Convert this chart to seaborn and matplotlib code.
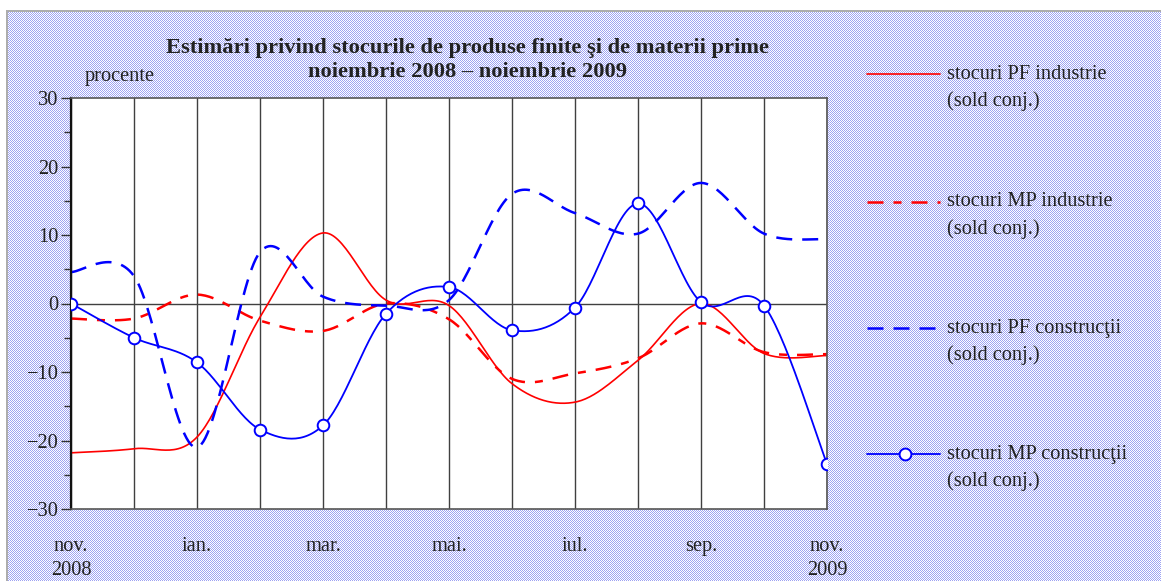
import numpy as np
import matplotlib
matplotlib.use("Agg")
import matplotlib.pyplot as plt
from matplotlib.lines import Line2D
import seaborn as sns

# monthly values, nov. 2008 - nov. 2009 (procente, sold conjunctural)
luni = ["nov.", "dec.", "ian.", "feb.", "mar.", "apr.", "mai.",
        "iun.", "iul.", "aug.", "sep.", "oct.", "nov."]
etichete_x = ["nov.\n2008", "", "ian.", "", "mar.", "", "mai.",
              "", "iul.", "", "sep.", "", "nov.\n2009"]

pf_industrie = [-21.8, -21.2, -19.5, -2.0, 10.3, 0.5, -0.3,
                -11.7, -14.4, -8.3, 0.0, -7.3, -7.6]
mp_industrie = [-2.2, -2.2, 1.3, -2.5, -4.0, 0.0, -2.3,
                -11.0, -10.2, -8.0, -2.9, -7.1, -7.4]
pf_constructii = [4.6, 4.0, -21.0, 7.5, 1.0, -0.3, 0.5,
                  16.0, 13.2, 10.2, 17.6, 10.2, 9.4]
mp_constructii = [0.0, -5.0, -8.6, -18.4, -17.8, -1.5, 2.4,
                  -3.9, -0.6, 14.6, 0.2, -0.3, -23.4]

W, H = 1161, 581


def fx(px):
    return px / W


def fy(py):
    return 1 - py / H


def smooth(vals, n=30):
    # Excel-style smoothed line (Catmull-Rom / Bezier) through the monthly points
    y = np.asarray(vals, float)
    x = np.arange(len(y), dtype=float)
    py = np.concatenate([[y[0]], y, [y[-1]]])
    px = np.concatenate([[x[0]], x, [x[-1]]])
    xs, ys = [], []
    t = np.linspace(0, 1, n, endpoint=False)
    for i in range(len(y) - 1):
        out = []
        for p in (px, py):
            p0, p1, p2, p3 = p[i], p[i + 1], p[i + 2], p[i + 3]
            c1 = p1 + (p2 - p0) / 6
            c2 = p2 - (p3 - p1) / 6
            out.append((1 - t) ** 3 * p1 + 3 * (1 - t) ** 2 * t * c1
                       + 3 * (1 - t) * t ** 2 * c2 + t ** 3 * p2)
        xs.append(out[0])
        ys.append(out[1])
    xs.append([x[-1]])
    ys.append([y[-1]])
    return np.concatenate(xs), np.concatenate(ys)


sns.set_theme(style="white")
plt.rcParams["font.family"] = ["Liberation Serif", "DejaVu Serif"]
txt = "#222222"
fs = 14.7

fig = plt.figure(figsize=(W / 100, H / 100), dpi=100, facecolor="white")

# dotted lavender background with grey frame
ii, jj = np.mgrid[0:H, 0:W]
bg = np.ones((H, W, 3))
dots = ((ii + jj) % 2 == 0) & (ii >= 11) & (jj >= 7)
bg[dots] = (0.62, 0.64, 0.95)
bg[10:12, 6:] = (0.68, 0.68, 0.68)
bg[10:, 6:8] = (0.68, 0.68, 0.68)
fig.figimage(bg, 0, 0, zorder=-1, origin="upper")

ax = fig.add_axes([fx(71), fy(509), fx(827 - 71), (509 - 98) / H])
ax.set_facecolor("white")

x, y = smooth(pf_industrie)
sns.lineplot(x=x, y=y, ax=ax, color="#ff0000", lw=1.2, sort=False, estimator=None)
x, y = smooth(mp_industrie)
sns.lineplot(x=x, y=y, ax=ax, color="#ff0000", lw=1.8, sort=False, estimator=None,
             linestyle=(0, (6.4, 4, 3.2, 4)))
x, y = smooth(pf_constructii)
sns.lineplot(x=x, y=y, ax=ax, color="#0000ff", lw=1.8, sort=False, estimator=None,
             linestyle=(0, (6.4, 4)))
x, y = smooth(mp_constructii)
sns.lineplot(x=x, y=y, ax=ax, color="#0000ff", lw=1.3, sort=False, estimator=None)
sns.scatterplot(x=np.arange(len(luni)), y=mp_constructii, ax=ax, s=70,
                facecolor="white", edgecolor="#0000ff", linewidth=1.4, zorder=5)

ax.axhline(0, color="#404040", lw=1, zorder=1)
ax.set_xlim(0, len(luni) - 1)
ax.set_ylim(-30, 30)
ax.set_xticks(range(len(luni)))
ax.set_xticklabels(etichete_x, fontsize=fs, color=txt, linespacing=1.4)
ax.set_yticks(range(-30, 31, 10))
ax.set_yticks(range(-25, 30, 10), minor=True)
ax.tick_params(axis="x", length=0, pad=20)
ax.tick_params(axis="y", which="major", length=7, width=1, color="#333333",
               left=True, labelsize=fs, labelcolor=txt, pad=2)
ax.tick_params(axis="y", which="minor", length=5, width=1, color="#333333", left=True)
ax.grid(axis="x", color="#404040", lw=1)
ax.grid(axis="y", visible=False)
ax.set_xlabel("")
ax.set_ylabel("")
for s in ["top", "right", "bottom"]:
    ax.spines[s].set_color("#555555")
    ax.spines[s].set_linewidth(1.2)
ax.spines["left"].set_color("#111111")
ax.spines["left"].set_linewidth(1.6)

fig.text(fx(468), fy(60), "Estimări privind stocurile de produse finite şi de materii prime\n"
         "noiembrie 2008 – noiembrie 2009", ha="center", va="center",
         fontsize=16.2, fontweight="bold", color=txt, linespacing=1.3)
fig.text(fx(120), fy(76), "procente", ha="center", va="center", fontsize=fs, color=txt)

# legend on the right
leg_y = [74, 202, 328, 454]
leg_lab = ["stocuri PF industrie", "stocuri MP industrie",
           "stocuri PF construcţii", "stocuri MP construcţii"]
leg_sty = [dict(color="#ff0000", lw=1.2),
           dict(color="#ff0000", lw=1.8, linestyle=(0, (6.4, 4, 3.2, 4))),
           dict(color="#0000ff", lw=1.8, linestyle=(0, (6.4, 4))),
           dict(color="#0000ff", lw=1.3)]
for yy, lab, sty in zip(leg_y, leg_lab, leg_sty):
    fig.add_artist(Line2D([fx(867), fx(940)], [fy(yy), fy(yy)], transform=fig.transFigure, **sty))
    fig.text(fx(947), fy(yy), lab, ha="left", va="center", fontsize=fs, color=txt)
    fig.text(fx(947), fy(yy + 27), "(sold conj.)", ha="left", va="center", fontsize=fs, color=txt)
fig.add_artist(Line2D([fx(905)], [fy(454)], transform=fig.transFigure, marker="o",
                      markersize=8.5, markerfacecolor="white", markeredgecolor="#0000ff",
                      markeredgewidth=1.4, linestyle="none"))

fig.savefig("out.png", dpi=100)
